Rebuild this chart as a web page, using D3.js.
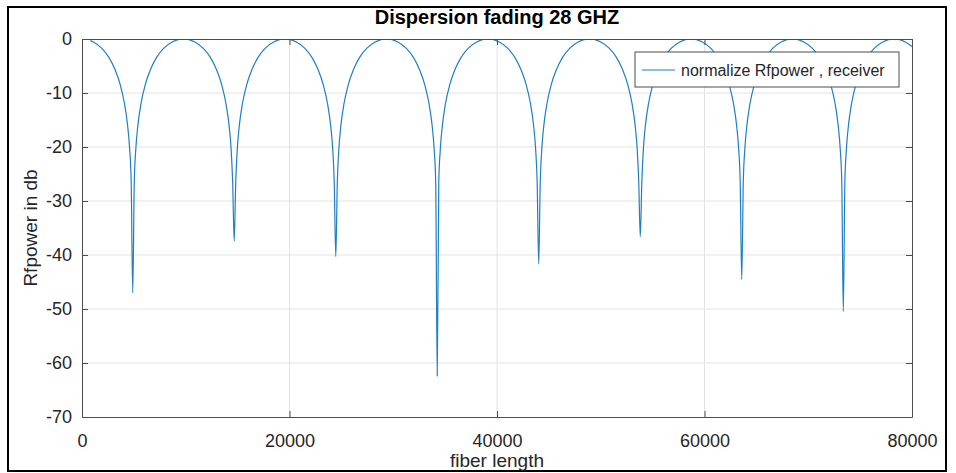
<!DOCTYPE html>
<html>
<head>
<meta charset="utf-8">
<script src="https://cdn.jsdelivr.net/npm/d3@7"></script>
<style>
  body { margin: 0; background: #fff; }
  svg { display: block; font-family: "Liberation Sans", Arial, sans-serif; }
  .tick text { fill: #262626; }
</style>
</head>
<body>
<svg id="chart" width="956" height="473"></svg>
<script>
// fiber length samples, one lobe per line
const fiberLength = [
  800, 1090, 1890, 2590, 3190, 3690, 4090, 4390, 4590, 4740, 4890,
  5040, 5190, 5390, 5690, 6090, 6590, 7190, 7890, 8690, 9780, 10870, 11670, 12370, 12970, 13470, 13870, 14170, 14370, 14520, 14670,
  14820, 14970, 15170, 15470, 15870, 16370, 16970, 17670, 18470, 19560, 20660, 21460, 22160, 22760, 23260, 23660, 23960, 24160, 24310, 24460,
  24610, 24760, 24960, 25260, 25660, 26160, 26760, 27460, 28260, 29350, 30440, 31240, 31940, 32540, 33040, 33440, 33740, 33940, 34090, 34240,
  34390, 34540, 34740, 35040, 35440, 35940, 36540, 37240, 38040, 39130, 40220, 41020, 41720, 42320, 42820, 43220, 43520, 43720, 43870, 44020,
  44170, 44320, 44520, 44820, 45220, 45720, 46320, 47020, 47820, 48920, 50010, 50810, 51510, 52110, 52610, 53010, 53310, 53510, 53660, 53810,
  53960, 54110, 54310, 54610, 55010, 55510, 56110, 56810, 57610, 58700, 59790, 60590, 61290, 61890, 62390, 62790, 63090, 63290, 63440, 63590,
  63740, 63890, 64090, 64390, 64790, 65290, 65890, 66590, 67390, 68480, 69580, 70380, 71080, 71680, 72180, 72580, 72880, 73080, 73230, 73380,
  73530, 73680, 73880, 74180, 74580, 75080, 75680, 76380, 77180, 78270, 79360, 80000
];

// normalized RF power at the receiver, dB
const rfPowerDb = [
  -0.3, -0.55, -1.7, -3.4, -5.7, -8.5, -11.9, -15.9, -20.3, -26.4, -47.0,
  -26.4, -20.3, -15.9, -11.9, -8.5, -5.7, -3.4, -1.7, -0.55, 0, -0.55, -1.7, -3.4, -5.7, -8.5, -11.9, -15.9, -20.3, -26.4, -37.4,
  -26.4, -20.3, -15.9, -11.9, -8.5, -5.7, -3.4, -1.7, -0.55, 0, -0.55, -1.7, -3.4, -5.7, -8.5, -11.9, -15.9, -20.3, -26.4, -40.3,
  -26.4, -20.3, -15.9, -11.9, -8.5, -5.7, -3.4, -1.7, -0.55, 0, -0.55, -1.7, -3.4, -5.7, -8.5, -11.9, -15.9, -20.3, -26.4, -62.4,
  -26.4, -20.3, -15.9, -11.9, -8.5, -5.7, -3.4, -1.7, -0.55, 0, -0.55, -1.7, -3.4, -5.7, -8.5, -11.9, -15.9, -20.3, -26.4, -41.7,
  -26.4, -20.3, -15.9, -11.9, -8.5, -5.7, -3.4, -1.7, -0.55, 0, -0.55, -1.7, -3.4, -5.7, -8.5, -11.9, -15.9, -20.3, -26.4, -36.6,
  -26.4, -20.3, -15.9, -11.9, -8.5, -5.7, -3.4, -1.7, -0.55, 0, -0.55, -1.7, -3.4, -5.7, -8.5, -11.9, -15.9, -20.3, -26.4, -44.5,
  -26.4, -20.3, -15.9, -11.9, -8.5, -5.7, -3.4, -1.7, -0.55, 0, -0.55, -1.7, -3.4, -5.7, -8.5, -11.9, -15.9, -20.3, -26.4, -50.5,
  -26.4, -20.3, -15.9, -11.9, -8.5, -5.7, -3.4, -1.7, -0.55, 0, -0.55, -1.4
];

const xTicks = [0, 20000, 40000, 60000, 80000];
const yTicks = [0, -10, -20, -30, -40, -50, -60, -70];

const titleText = 'Dispersion fading 28 GHZ';
const xLabel = 'fiber length';
const yLabel = 'Rfpower in db';
const legendLabel = 'normalize Rfpower , receiver';

const lineColor = '#1f7fc4';
const axisColor = '#4d4d4d';
const gridColor = '#e3e3e3';

const margin = { left: 82, top: 39, right: 44, bottom: 56 };
const svg = d3.select('#chart');
const width = +svg.attr('width');
const height = +svg.attr('height');
const plotW = width - margin.left - margin.right;
const plotH = height - margin.top - margin.bottom;

const x = d3.scaleLinear().domain([0, 80000]).range([0, plotW]);
const y = d3.scaleLinear().domain([-70, 0]).range([plotH, 0]);

// plain hyphen minus, like the original
const fmt = d => String(d);

// outer frame
svg.append('rect')
  .attr('x', 8).attr('y', 7)
  .attr('width', 938).attr('height', 464)
  .attr('fill', 'none')
  .attr('stroke', '#000')
  .attr('stroke-width', 2);

const g = svg.append('g')
  .attr('transform', `translate(${margin.left},${margin.top})`);

// grid
g.append('g').selectAll('line')
  .data(xTicks.slice(1, -1))
  .join('line')
  .attr('x1', d => x(d)).attr('x2', d => x(d))
  .attr('y1', 0).attr('y2', plotH)
  .attr('stroke', gridColor);
g.append('g').selectAll('line')
  .data(yTicks.slice(1, -1))
  .join('line')
  .attr('x1', 0).attr('x2', plotW)
  .attr('y1', d => y(d)).attr('y2', d => y(d))
  .attr('stroke', gridColor);

// curve
g.append('clipPath').attr('id', 'clip')
  .append('rect').attr('width', plotW).attr('height', plotH);

const line = d3.line()
  .x(d => x(d[0]))
  .y(d => y(d[1]))
  .curve(d3.curveMonotoneX);

g.append('path')
  .datum(d3.zip(fiberLength, rfPowerDb))
  .attr('clip-path', 'url(#clip)')
  .attr('fill', 'none')
  .attr('stroke', lineColor)
  .attr('stroke-width', 1.2)
  .attr('d', line);

// axes, ticks pointing inwards on all four sides
function styleAxis(sel) {
  sel.select('.domain').attr('stroke', axisColor);
  sel.selectAll('.tick line').attr('stroke', axisColor);
  sel.selectAll('.tick text').attr('font-size', 18);
}

g.append('g')
  .attr('transform', `translate(0,${plotH})`)
  .call(d3.axisBottom(x).tickValues(xTicks).tickFormat(fmt)
    .tickSizeInner(-6).tickSizeOuter(0).tickPadding(17))
  .call(styleAxis);
g.append('g')
  .call(d3.axisTop(x).tickValues(xTicks).tickFormat('')
    .tickSizeInner(-6).tickSizeOuter(0))
  .call(styleAxis);
g.append('g')
  .call(d3.axisLeft(y).tickValues(yTicks).tickFormat(fmt)
    .tickSizeInner(-6).tickSizeOuter(0).tickPadding(10))
  .call(styleAxis);
g.append('g')
  .attr('transform', `translate(${plotW},0)`)
  .call(d3.axisRight(y).tickValues(yTicks).tickFormat('')
    .tickSizeInner(-6).tickSizeOuter(0))
  .call(styleAxis);

// title and axis labels
svg.append('text')
  .attr('x', margin.left + plotW / 2).attr('y', 24)
  .attr('text-anchor', 'middle')
  .attr('font-size', 20).attr('font-weight', 'bold')
  .attr('fill', '#000')
  .text(titleText);

svg.append('text')
  .attr('x', margin.left + plotW / 2).attr('y', 467)
  .attr('text-anchor', 'middle')
  .attr('font-size', 19)
  .attr('fill', '#262626')
  .text(xLabel);

svg.append('text')
  .attr('transform', `translate(37,${margin.top + plotH / 2}) rotate(-90)`)
  .attr('text-anchor', 'middle')
  .attr('font-size', 19)
  .attr('fill', '#262626')
  .text(yLabel);

// legend
const legend = svg.append('g').attr('transform', 'translate(635,52)');
legend.append('rect')
  .attr('width', 264).attr('height', 35)
  .attr('fill', '#fff')
  .attr('stroke', axisColor);
legend.append('line')
  .attr('x1', 7).attr('x2', 40)
  .attr('y1', 18).attr('y2', 18)
  .attr('stroke', lineColor)
  .attr('stroke-width', 1.2);
legend.append('text')
  .attr('x', 46).attr('y', 24)
  .attr('font-size', 16)
  .attr('fill', '#262626')
  .text(legendLabel);
</script>
</body>
</html>
